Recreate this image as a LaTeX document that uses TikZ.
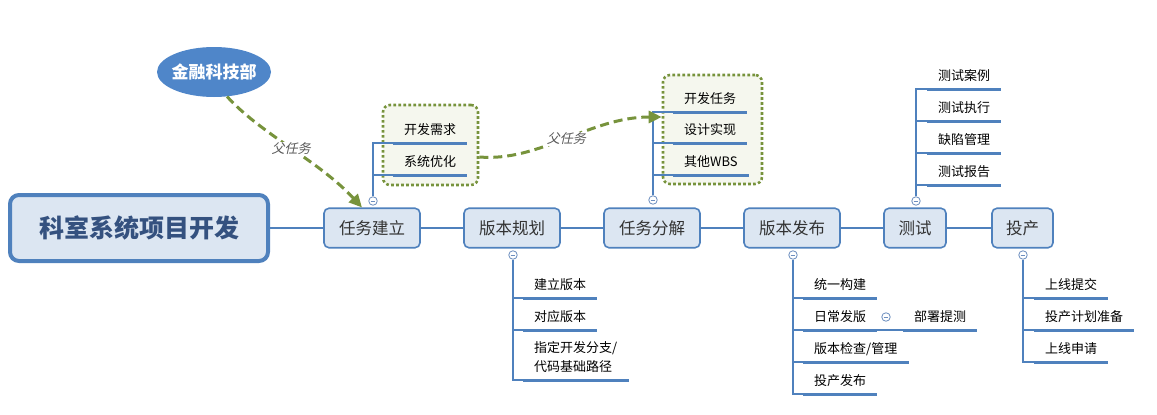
\documentclass[tikz,border=0pt]{standalone}
\usepackage{fontspec}
\setmainfont{Noto Sans CJK SC}
\newfontfamily\slantcjk[FakeSlant=0.22]{Noto Sans CJK SC}
\usetikzlibrary{arrows.meta,shapes.geometric}
\definecolor{mapblue}{HTML}{4F81BD}
\definecolor{mapfill}{HTML}{DCE6F2}
\definecolor{ellblue}{HTML}{4F86C9}
\definecolor{grpgreen}{HTML}{77933C}
\definecolor{grpfill}{HTML}{F5F7EE}
\definecolor{textgray}{HTML}{333333}
\definecolor{roottext}{HTML}{34517F}
\definecolor{taggray}{HTML}{595959}
\definecolor{foldblue}{HTML}{6C8EBF}
\tikzset{
  stage/.style={draw=mapblue, line width=1.6pt, fill=mapfill, rounded corners=5pt,
    minimum width=96pt, minimum height=39.5pt, text=textgray,
    font=\fontsize{16.5}{20}\selectfont},
  link/.style={draw=mapblue, line width=1.2pt},
  uline/.style={draw=mapblue, line width=3pt},
  leaf/.style={anchor=south west, inner xsep=11pt, inner ysep=6pt,
    text height=9pt, text depth=2pt, text=black, font=\fontsize{13}{19}\selectfont,
    append after command={(\tikzlastnode.south west) edge[uline] (\tikzlastnode.south east)}},
  fold/.style={circle, draw=foldblue, line width=0.8pt, fill=white, minimum size=8.5pt, inner sep=0pt,
    path picture={\draw[foldblue, line width=0.8pt]
      ([xshift=-2.3pt]path picture bounding box.center) -- ([xshift=2.3pt]path picture bounding box.center);}},
  group/.style={draw=grpgreen, line width=2.6pt, dash pattern=on 2.6pt off 2.4pt,
    fill=grpfill, rounded corners=7pt, inner sep=0pt},
  parent/.style={draw=grpgreen, line width=3pt, dash pattern=on 9pt off 5pt,
    -{Triangle[length=13pt,width=12pt]}},
  tag/.style={font=\slantcjk\fontsize{13}{15}\selectfont, text=taggray, fill=white, inner sep=1pt}
}
\begin{document}
\begin{tikzpicture}[x=1pt,y=-1pt]
  \useasboundingbox (0,0) rectangle (1157,415);
  % groups of sub tasks
  \node[group, minimum width=95pt, minimum height=80pt] (g1) at (430.5,145) {};
  \node[group, minimum width=99pt, minimum height=109pt] (g2) at (712.5,129.5) {};
  % main line
  \node[stage, line width=4pt, rounded corners=9pt, minimum width=258pt, minimum height=66pt,
    text=roottext, font=\bfseries\fontsize{25}{30}\selectfont] (root) at (139,228) {科室系统项目开发};
  \node[stage] (s1) at (372,228) {任务建立};
  \node[stage] (s2) at (512,228) {版本规划};
  \node[stage] (s3) at (652,228) {任务分解};
  \node[stage] (s4) at (792,228) {版本发布};
  \node[stage, minimum width=62pt] (s5) at (915,228) {测试};
  \node[stage, minimum width=61pt] (s6) at (1022.5,228) {投产};
  \draw[link] (root) -- (s1);
  \draw[link] (s1) -- (s2);
  \draw[link] (s2) -- (s3);
  \draw[link] (s3) -- (s4);
  \draw[link] (s4) -- (s5);
  \draw[link] (s5) -- (s6);
  % 任务建立
  \node[fold] (f1) at (373,201) {};
  \node[leaf] (n11) at (393,143) {开发需求};
  \node[leaf] (n12) at (393,175) {系统优化};
  \draw[link] (f1) |- (n11.south west);
  \draw[link] (f1) |- (n12.south west);
  % 版本规划
  \node[fold] (f2) at (513,255) {};
  \node[leaf] (n21) at (523,298) {建立版本};
  \node[leaf] (n22) at (523,330) {对应版本};
  \node[leaf, align=left] (n23) at (523,380) {指定开发分支/\\代码基础路径};
  \foreach \n in {n21,n22,n23}
    \draw[link] (f2) |- (\n.south west);
  % 任务分解
  \node[fold] (f3) at (653,200) {};
  \node[leaf] (n31) at (673,112) {开发任务};
  \node[leaf] (n32) at (673,143) {设计实现};
  \node[leaf] (n33) at (673,175) {其他WBS};
  \foreach \n in {n31,n32,n33}
    \draw[link] (f3) |- (\n.south west);
  % 版本发布
  \node[fold] (f4) at (793,255) {};
  \node[leaf] (n41) at (803,298) {统一构建};
  \node[leaf] (n42) at (803,330) {日常发版};
  \node[leaf] (n44) at (803,362) {版本检查/管理};
  \node[leaf] (n45) at (803,394) {投产发布};
  \foreach \n in {n41,n42,n44,n45}
    \draw[link] (f4) |- (\n.south west);
  \node[fold] (f7) at (886,317) {};
  \node[leaf] (n43) at (903,330) {部署提测};
  \draw[link] (n42.south east) -- (n43.south west);
  % 测试
  \node[fold] (f5) at (916,201) {};
  \node[leaf] (n51) at (927,89) {测试案例};
  \node[leaf] (n52) at (927,121) {测试执行};
  \node[leaf] (n53) at (927,153) {缺陷管理};
  \node[leaf] (n54) at (927,185) {测试报告};
  \foreach \n in {n51,n52,n53,n54}
    \draw[link] (f5) |- (\n.south west);
  % 投产
  \node[fold] (f6) at (1023,255) {};
  \node[leaf] (n61) at (1034,298) {上线提交};
  \node[leaf] (n62) at (1034,330) {投产计划准备};
  \node[leaf] (n63) at (1034,362) {上线申请};
  \foreach \n in {n61,n62,n63}
    \draw[link] (f6) |- (\n.south west);
  % parent task links
  \node[ellipse, fill=ellblue, minimum width=114pt, minimum height=50pt, inner sep=0pt, text=white,
    font=\bfseries\fontsize{17}{20}\selectfont] (dept) at (214,72) {\makebox[70pt]{金融科技部}};
  \draw[parent] (dept.-62) .. controls (262,135) and (318,160) .. ([xshift=-10pt]s1.north)
    node[tag, pos=0.5] {父任务};
  \draw[parent] ([yshift=-12pt]g1.east) .. controls (540,162) and (590,117) .. ([yshift=12.5pt]g2.west)
    node[tag, pos=0.5] {父任务};
\end{tikzpicture}
\end{document}
